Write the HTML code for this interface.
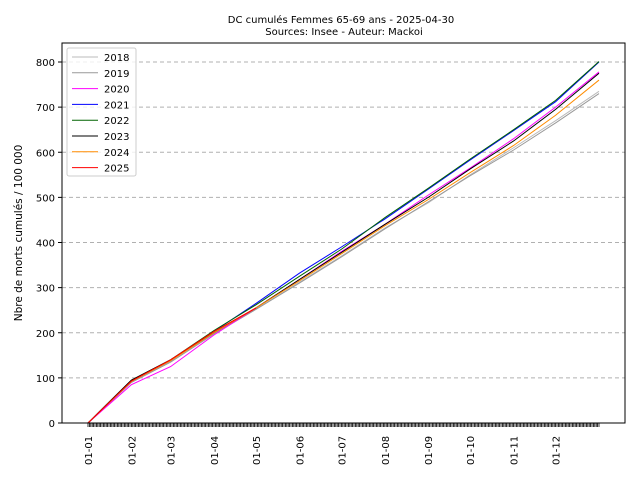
<!DOCTYPE html>
<html><head><meta charset="utf-8"><style>
body{margin:0;background:#fff;font-family:"Liberation Sans","DejaVu Sans",sans-serif}
svg text{font-family:"DejaVu Sans","Liberation Sans",sans-serif}
</style></head><body>
<svg id="c" width="640" height="480" xmlns="http://www.w3.org/2000/svg">
<rect width="640" height="480" fill="#fff"/>
<text x="341" y="23" font-size="10" text-anchor="middle">DC cumulés Femmes 65-69 ans  - 2025-04-30</text>
<text x="344" y="35" font-size="10" text-anchor="middle">Sources: Insee - Auteur: Mackoi</text>
<text transform="translate(22,233) rotate(-90)" font-size="10.5" text-anchor="middle">Nbre de morts cumulés / 100 000</text>
<g id="grid"></g><g id="ticks"></g><g id="series"></g>
<rect x="62" y="43" width="563" height="380" fill="none" stroke="#000" stroke-width="1"/>
<g id="legend"></g>
</svg>
<script>
const monthLabels=["01-01","01-02","01-03","01-04","01-05","01-06","01-07","01-08","01-09","01-10","01-11","01-12"];
const monthDays=[0,31,59,90,120,151,181,212,243,273,304,334,365];
const yTicks=[0,100,200,300,400,500,600,700,800];
const seriesNames=["2018","2019","2020","2021","2022","2023","2024","2025"];
const seriesColors=["#bbbbbb","#999999","#ff00ff","#0000ff","#006400","#000000","#ff8c00","#ff0000"];
const s2018=[0,90,135,197,252,312,370,432,488,550,610,670,735];
const s2019=[0,90,135,198,252,310,368,430,490,548,605,665,730];
const s2020=[0,85,125,195,255,318,380,440,505,565,630,700,778];
const s2021=[0,93,138,203,265,332,390,452,518,583,648,712,800];
const s2022=[0,95,140,205,262,325,385,455,520,585,650,715,801];
const s2023=[0,95,140,200,255,318,378,440,500,563,625,695,775];
const s2024=[0,92,138,200,255,315,375,437,495,555,615,682,760];
const s2025=[0,93,140,203,255];
const allSeries=[s2018,s2019,s2020,s2021,s2022,s2023,s2024,s2025];
const NS="http://www.w3.org/2000/svg";
const xS=d=>88+d*1.4;
const yS=v=>423-v*0.45125;
function mk(t,a,p){const e=document.createElementNS(NS,t);for(const k in a)e.setAttribute(k,a[k]);p.appendChild(e);return e;}
const grid=document.getElementById('grid'),ticks=document.getElementById('ticks');
yTicks.forEach(v=>{
 if(v>0){const g=mk('line',{x1:62,x2:625,y1:yS(v),y2:yS(v),stroke:'#b0b0b0','stroke-dasharray':'4,3'},grid);
 
 }
 mk('line',{x1:58,x2:62,y1:yS(v),y2:yS(v),stroke:'#000'},ticks);
 const t=mk('text',{x:55,y:yS(v)+4,'font-size':10,'text-anchor':'end'},ticks);t.textContent=v;
 
 
});
for(let d=0;d<=365;d++){mk('line',{x1:xS(d),x2:xS(d),y1:423,y2:427,stroke:'#000','stroke-width':0.8},ticks);}
monthLabels.forEach((m,i)=>{const x=xS(monthDays[i]);
 const t=mk('text',{transform:`translate(${x+4},465) rotate(-90)`,'font-size':10},ticks);t.textContent=m;
 
 });
const sg=document.getElementById('series');
allSeries.forEach((s,i)=>{
 const pts=s.map((v,j)=>xS(monthDays[j])+','+yS(v)).join(' ');
 const p=mk('polyline',{points:pts,fill:'none',stroke:seriesColors[i],'stroke-width':1},sg);
 
 
});
const lg=document.getElementById('legend');
const box=mk('rect',{x:67,y:48,width:69,height:128,rx:2,fill:'#fff',stroke:'#ccc','fill-opacity':0.8},lg);


seriesNames.forEach((n,i)=>{const y=57+i*15.8;
 mk('line',{x1:72,x2:98,y1:y,y2:y,stroke:seriesColors[i],'stroke-width':1},lg);
 const t=mk('text',{x:104,y:y+4,'font-size':10},lg);t.textContent=n;
 
 });
</script>
</body></html>
